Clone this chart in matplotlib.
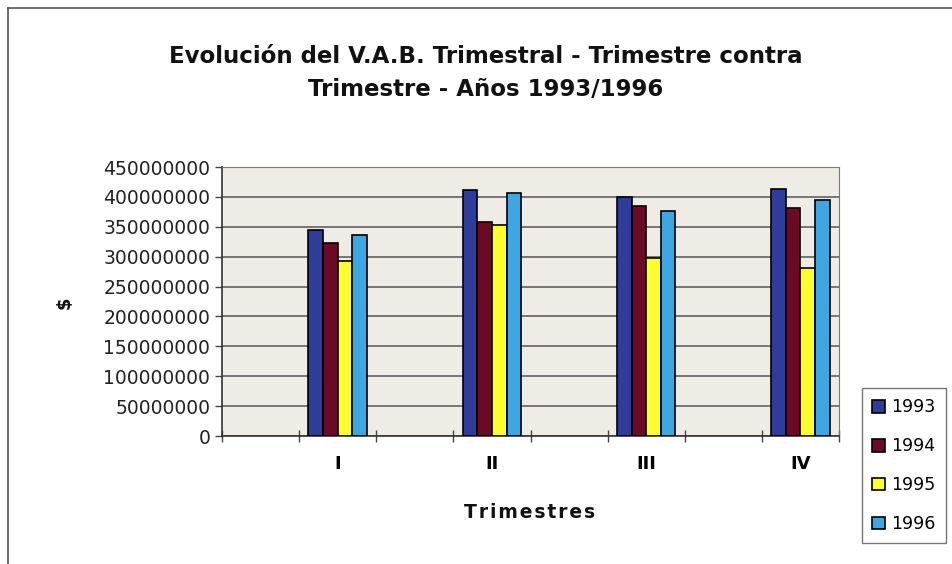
import matplotlib.pyplot as plt
import numpy as np
from matplotlib.lines import Line2D

trimestres = ['I', 'II', 'III', 'IV']
years = ['1993', '1994', '1995', '1996']
v1993 = [344e6, 411e6, 400e6, 414e6]
v1994 = [323e6, 358e6, 384e6, 382e6]
v1995 = [293e6, 353e6, 298e6, 281e6]
v1996 = [337e6, 407e6, 377e6, 394e6]
colors = ['#2f3c9a', '#6a0a25', '#ffff30', '#3ea6e2']

W, H = 953, 564
fig = plt.figure(figsize=(W / 100, H / 100), dpi=100)
fig.patch.set_facecolor('white')

ax = fig.add_axes([222 / W, 1 - 436 / H, 617 / W, 269 / H])
ax.set_facecolor('#eeece4')

# Excel style: every quarter sits in every second category slot
pos = np.arange(len(trimestres)) * 2 + 1
bw = 0.19
series = [v1993, v1994, v1995, v1996]
for k, (vals, c, yr) in enumerate(zip(series, colors, years)):
    ax.bar(pos + (k - 1.5) * bw, vals, width=bw, color=c,
           edgecolor='black', linewidth=1.2, label=yr, zorder=3)

ax.set_xlim(-0.5, 7.5)
ax.set_ylim(0, 450e6)
ax.set_yticks(np.arange(0, 450e6 + 1, 50e6))
ax.set_yticklabels([f'{int(v)}' for v in np.arange(0, 450e6 + 1, 50e6)],
                   fontsize=13.5, color='#222222')
ax.yaxis.grid(True, color='#555555', linewidth=1.1, zorder=1)

ax.set_xticks(np.arange(-0.5, 8, 1))
ax.set_xticklabels([])
ax.tick_params(axis='x', direction='inout', length=9, width=1, color='#444444')
ax.tick_params(axis='y', direction='out', length=5, width=1, color='#444444')
ax.set_xticks(pos, minor=True)
ax.set_xticklabels(trimestres, minor=True, fontsize=13, fontweight='bold')
ax.tick_params(axis='x', which='minor', length=0, pad=14)

for s in ['top', 'right']:
    ax.spines[s].set_color('#777777')
for s in ['left', 'bottom']:
    ax.spines[s].set_color('#333333')
    ax.spines[s].set_linewidth(1.2)

fig.text(486 / W, 1 - 73 / H,
         'Evolución del V.A.B. Trimestral - Trimestre contra\nTrimestre - Años 1993/1996',
         ha='center', va='center', fontsize=16.5, fontweight='bold',
         linespacing=1.6, color='#111111')
fig.text(530 / W, 1 - 513 / H, '\u200a'.join('Trimestres'), ha='center', va='center',
         fontsize=13.5, fontweight='bold', color='#111111')
fig.text(65 / W, 1 - 303 / H, '$', rotation=90, ha='center', va='center',
         fontsize=13, fontweight='bold', color='#111111')

leg = fig.legend(loc='upper left', bbox_to_anchor=(862 / W, 1 - 388 / H),
                 fontsize=12.5, frameon=True, fancybox=False,
                 handlelength=0.75, handleheight=0.75, handletextpad=0.35,
                 labelspacing=1.2, borderpad=0.6, borderaxespad=0)
leg.get_frame().set_edgecolor('#555555')
leg.get_frame().set_linewidth(1)

# outer chart border (top and left edges visible in the scan)
fig.add_artist(Line2D([8 / W, 1], [1 - 8 / H, 1 - 8 / H], color='#555555', lw=1.2))
fig.add_artist(Line2D([8 / W, 8 / W], [0, 1 - 8 / H], color='#555555', lw=1.2))

fig.savefig('out.png', dpi=100)
